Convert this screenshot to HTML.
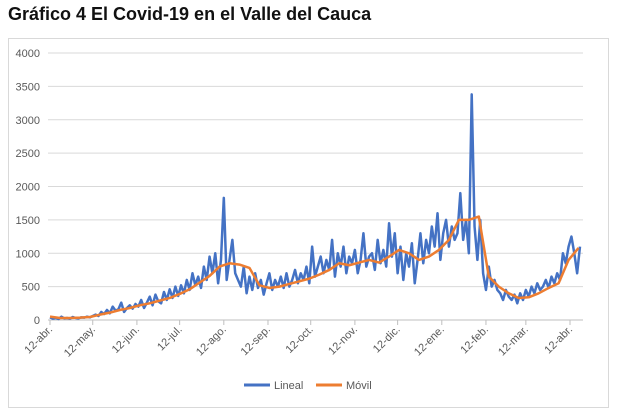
<!DOCTYPE html>
<html><head><meta charset="utf-8"><style>
body{margin:0;background:#fff;width:621px;height:415px;overflow:hidden;font-family:"Liberation Sans",Arial,sans-serif}
#title{position:absolute;left:8px;top:4px;font-size:18px;font-weight:bold;color:#111}
svg{position:absolute;left:0;top:0}
</style></head><body>
<div id="title">Gráfico 4 El Covid-19 en el Valle del Cauca</div>
<svg id="c" width="621" height="415"></svg>
<script>
const yTicks=[0,500,1000,1500,2000,2500,3000,3500,4000];
const xLabels=["12-abr.","12-may.","12-jun.","12-jul.","12-ago.","12-sep.","12-oct.","12-nov.","12-dic.","12-ene.","12-feb.","12-mar.","12-abr."];
const xTickDays=[0,30,61,91,122,153,183,214,244,275,306,334,365];
const linealStep=2;
const lineal=[40,20,30,15,50,25,30,20,45,30,25,40,35,50,40,60,
80,60,120,90,150,100,200,140,160,260,120,180,220,170,240,
200,300,180,260,350,220,380,280,250,420,300,460,330,500,360,
520,400,600,450,700,520,650,480,800,600,950,700,1000,550,900,
1830,600,900,1200,700,600,500,800,400,650,450,700,480,600,380,
550,700,450,600,500,650,480,700,500,600,750,550,700,600,800,
550,1100,650,800,950,700,900,750,1200,650,1000,800,1100,700,950,
850,1050,700,900,1300,800,950,1000,750,1200,850,1050,800,1450,950,
1300,700,1100,600,1000,800,1150,550,900,1300,850,1200,1000,1400,1100,
1600,900,1300,1500,1100,1400,1200,1300,1900,1200,1500,1000,3380,1400,900,
1500,700,450,800,500,600,450,400,300,450,350,300,380,250,400,
300,450,350,500,400,550,450,500,600,480,650,550,700,600,1000,
850,1100,1250,1000,700,1100];
const movilStep=7;
const movil=[50,30,30,35,45,80,110,150,180,220,250,290,330,390,460,560,660,800,850,830,780,520,480,500,540,580,620,680,750,850,820,860,900,860,950,1050,1000,900,950,1050,1200,1500,1500,1550,650,500,400,330,340,400,480,550,900,1080];
const svg=document.getElementById('c');const NS='http://www.w3.org/2000/svg';
function mk(t,a,p){const e=document.createElementNS(NS,t);for(const k in a)e.setAttribute(k,a[k]);(p||svg).appendChild(e);return e;}
const X=d=>50+d*1.4247, Y=v=>320-v*0.06675;
const frame=mk('rect',{x:8.5,y:38.5,width:600,height:369,fill:'none',stroke:'#d9d9d9'});

yTicks.forEach(v=>{
 const g=mk('line',{x1:48,x2:583,y1:Y(v),y2:Y(v),stroke:v?'#d9d9d9':'#bfbfbf'});
 
 const t=mk('text',{x:40,y:Y(v)+4,'text-anchor':'end','font-size':11,fill:'#595959'});t.textContent=v;
 
});
xTickDays.forEach((d,i)=>{
 const tk=mk('line',{x1:X(d),x2:X(d),y1:320,y2:325,stroke:'#bfbfbf'});
 
 const t=mk('text',{x:X(d)+3,y:330,'text-anchor':'end','font-size':11,fill:'#595959',transform:`rotate(-45 ${X(d)+3} 330)`});t.textContent=xLabels[i];
 
});
const lp=mk('polyline',{points:lineal.map((v,i)=>X(i*linealStep)+','+Y(v)).join(' '),fill:'none',stroke:'#4472C4','stroke-width':2.5,'stroke-linejoin':'round'});

const mp=mk('polyline',{points:movil.map((v,i)=>X(i*movilStep)+','+Y(v)).join(' '),fill:'none',stroke:'#ED7D31','stroke-width':2.5,'stroke-linejoin':'round'});

[['Lineal','#4472C4',244],['Móvil','#ED7D31',316]].forEach(([n,c,x])=>{
 const g=mk('g',{});
 mk('line',{x1:x,x2:x+26,y1:385,y2:385,stroke:c,'stroke-width':3},g);
 const t=mk('text',{x:x+30,y:389,'font-size':11,fill:'#595959'},g);t.textContent=n;
});
</script>
</body></html>
